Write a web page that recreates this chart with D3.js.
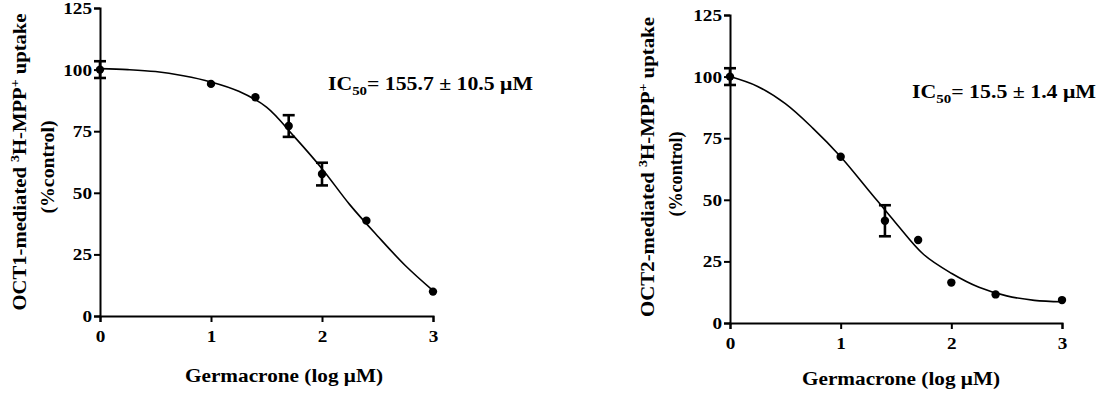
<!DOCTYPE html>
<html>
<head>
<meta charset="utf-8">
<script src="https://cdn.jsdelivr.net/npm/d3@7"></script>
<style>
  body { margin: 0; background: #fff; }
  svg { display: block; }
  text { font-family: "Liberation Serif", "Times New Roman", serif; font-weight: bold; fill: #000; }
</style>
</head>
<body>
<svg width="1109" height="397"></svg>
<script>
// shared axis ticks
const xTicks = [0, 1, 2, 3]
const yTicks = [0, 25, 50, 75, 100, 125]

// OCT1 panel
const oct1Dose = [0, 1, 1.4, 1.7, 2, 2.4, 3]
const oct1Mean = [100, 94.2, 88.8, 77.1, 57.6, 38.7, 9.9]
const oct1Err = [3.4, 0, 0, 4.4, 4.6, 0, 0]
const oct1FitX = [0, 0.25, 0.5, 0.75, 1, 1.25, 1.5, 1.75, 2, 2.25, 2.5, 2.75, 3]
const oct1FitY = [100.4, 100, 99.2, 97.5, 95, 91.2, 84.8, 72.8, 59.8, 45.2, 32.5, 20.5, 10.3]

// OCT2 panel
const oct2Dose = [0, 1, 1.4, 1.7, 2, 2.4, 3]
const oct2Mean = [100, 67.5, 41.5, 33.7, 16.4, 11.6, 9.3]
const oct2Err = [3.4, 0, 6.3, 0, 0, 0, 0]
const oct2FitX = [0, 0.25, 0.5, 0.75, 1, 1.25, 1.5, 1.75, 2, 2.25, 2.5, 2.75, 3]
const oct2FitY = [100, 96, 89, 79, 67.5, 54, 40.5, 27.8, 20.2, 14.5, 11, 9.2, 8.6]

const svg = d3.select('svg')

function drawPanel(opts) {
  const x = d3.scaleLinear().domain([0, 3]).range([opts.left, opts.right])
  const y = d3.scaleLinear().domain([0, 125]).range([opts.bottom, opts.top])
  const g = svg.append('g')

  const yAxis = g.append('g')
    .attr('transform', `translate(${opts.left},0)`)
    .call(d3.axisLeft(y).tickValues(yTicks).tickFormat(d3.format('d')).tickSize(6).tickPadding(2))
  const xAxis = g.append('g')
    .attr('transform', `translate(0,${opts.bottom})`)
    .call(d3.axisBottom(x).tickValues(xTicks).tickFormat(d3.format('d')).tickSize(6).tickPadding(8))

  ;[yAxis, xAxis].forEach(a => {
    a.attr('font-size', 17).attr('font-family', null)
    a.select('.domain').attr('stroke', '#000').attr('stroke-width', 2)
    a.selectAll('.tick line').attr('stroke', '#000').attr('stroke-width', 2)
    a.selectAll('.tick text')
      .attr('fill', '#000')
      .attr('textLength', function () { return this.textContent.length * 9.6 })
      .attr('lengthAdjust', 'spacingAndGlyphs')
  })

  const line = d3.line()
    .x(d => x(d[0]))
    .y(d => y(d[1]))
    .curve(d3.curveCatmullRom)

  g.append('path')
    .datum(opts.fitX.map((v, i) => [v, opts.fitY[i]]))
    .attr('d', line)
    .attr('fill', 'none')
    .attr('stroke', '#000')
    .attr('stroke-width', 1.6)

  const pts = opts.dose.map((d, i) => ({ x: d, y: opts.mean[i], e: opts.err[i] }))

  const bars = g.append('g').selectAll('g')
    .data(pts.filter(d => d.e > 0))
    .join('g')
  bars.append('line')
    .attr('x1', d => x(d.x)).attr('x2', d => x(d.x))
    .attr('y1', d => y(d.y - d.e)).attr('y2', d => y(d.y + d.e))
    .attr('stroke', '#000').attr('stroke-width', 2.6)
  ;[-1, 1].forEach(s => {
    bars.append('line')
      .attr('x1', d => x(d.x) - 6).attr('x2', d => x(d.x) + 6)
      .attr('y1', d => y(d.y + s * d.e)).attr('y2', d => y(d.y + s * d.e))
      .attr('stroke', '#000').attr('stroke-width', 2.6)
  })

  g.append('g').selectAll('circle')
    .data(pts)
    .join('circle')
    .attr('cx', d => x(d.x))
    .attr('cy', d => y(d.y))
    .attr('r', 4.2)
    .attr('fill', '#000')

  // x title
  g.append('text')
    .attr('x', opts.xTitle[0])
    .attr('y', opts.xTitle[1])
    .attr('text-anchor', 'middle')
    .attr('textLength', 198)
    .attr('lengthAdjust', 'spacingAndGlyphs')
    .style('font-size', '18px')
    .text('Germacrone (log \u03bcM)')

  // y title, two lines
  const t1 = g.append('text')
    .attr('transform', `translate(${opts.yTitle1[0]},${opts.yTitle1[1]}) rotate(-90)`)
    .attr('text-anchor', 'middle')
    .style('font-size', '18px')
  t1.append('tspan').text(opts.label + '-mediated ')
  t1.append('tspan').attr('dy', -7).style('font-size', '12px').text('3')
  t1.append('tspan').attr('dy', 7).text('H-MPP')
  t1.append('tspan').attr('dy', -7).style('font-size', '12px').text('+')
  t1.append('tspan').attr('dy', 7).text(' uptake')
  t1.attr('textLength', opts.yTitle1[2]).attr('lengthAdjust', 'spacingAndGlyphs')

  g.append('text')
    .attr('transform', `translate(${opts.yTitle2[0]},${opts.yTitle2[1]}) rotate(-90)`)
    .attr('text-anchor', 'middle')
    .attr('textLength', opts.yTitle2[2])
    .attr('lengthAdjust', 'spacingAndGlyphs')
    .style('font-size', '18px')
    .text('(%control)')

  // IC50 annotation
  const ic = g.append('text')
    .attr('x', opts.ic[0])
    .attr('y', opts.ic[1])
    .style('font-size', '19px')
  ic.append('tspan').text('IC')
  ic.append('tspan').attr('dy', 5).style('font-size', '13px').text('50')
  ic.append('tspan').attr('dy', -5).text(opts.icText)
  ic.attr('textLength', opts.ic[2]).attr('lengthAdjust', 'spacingAndGlyphs')
}

drawPanel({
  left: 100, right: 433, top: 8, bottom: 316,
  dose: oct1Dose, mean: oct1Mean, err: oct1Err, fitX: oct1FitX, fitY: oct1FitY,
  label: 'OCT1',
  xTitle: [284, 382],
  yTitle1: [26, 162, 297], yTitle2: [54, 167, 93],
  ic: [328, 90, 205], icText: '= 155.7 \u00b1 10.5 \u03bcM'
})

drawPanel({
  left: 730, right: 1062, top: 15, bottom: 323,
  dose: oct2Dose, mean: oct2Mean, err: oct2Err, fitX: oct2FitX, fitY: oct2FitY,
  label: 'OCT2',
  xTitle: [901, 385],
  yTitle1: [654, 167, 300], yTitle2: [682, 174, 85],
  ic: [912, 98, 184], icText: '= 15.5 \u00b1 1.4 \u03bcM'
})
</script>
</body>
</html>
